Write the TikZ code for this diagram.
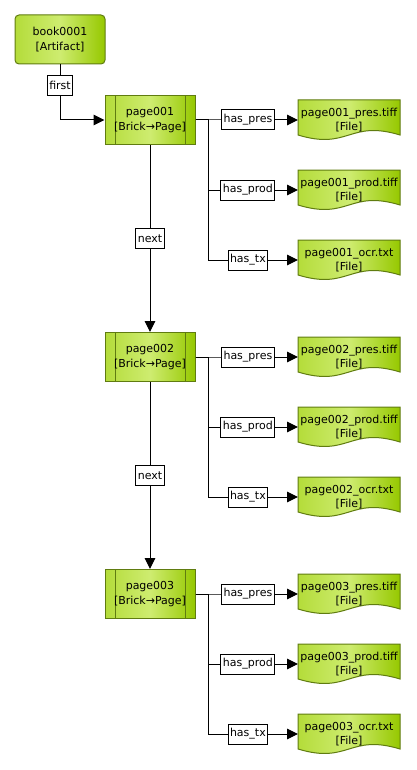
\documentclass[tikz,border=0pt]{standalone}
\usepackage{fontspec}
\setmainfont{DejaVu Sans}
\usetikzlibrary{arrows.meta,backgrounds,calc}

\definecolor{nodeedge}{RGB}{96,124,16}
\definecolor{greenlight}{RGB}{206,236,112}
\definecolor{greenmid}{RGB}{180,220,58}
\definecolor{greendark}{RGB}{150,200,0}

\begin{document}
\begin{tikzpicture}[x=0.75pt,y=-0.75pt,
    font=\fontsize{8.25pt}{11pt}\selectfont,
    greenfill/.style={draw=nodeedge, line width=0.75pt, left color=greenmid, right color=greendark, middle color=greenlight},
    artifact/.style={greenfill, rounded corners=3pt, minimum width=67.5pt, minimum height=36.75pt, align=center, inner sep=0pt},
    brick/.style={greenfill, minimum width=67.5pt, minimum height=36.75pt, align=center, inner sep=0pt,
        path picture={\draw[nodeedge, line width=0.75pt]
            ([xshift=7.5pt]path picture bounding box.north west) -- ([xshift=7.5pt]path picture bounding box.south west)
            ([xshift=-7.5pt]path picture bounding box.north east) -- ([xshift=-7.5pt]path picture bounding box.south east);}},
    filebox/.style={minimum width=76.5pt, minimum height=30pt, align=center, inner sep=0pt, outer sep=0pt},
    lbl/.style={draw, fill=white, line width=0.75pt, inner xsep=1.5pt, inner ysep=0pt, minimum height=15pt},
    conn/.style={line width=0.75pt, -{Triangle[length=8.25pt,width=8pt]}}]
            \useasboundingbox (0,0) rectangle (417,770);

            % Book
            \node[artifact] (book) at (60,39.5) {book0001\\{[Artifact]}};

            % Pages and their files
            \foreach \i/\y in {1/120,2/357,3/594} {
                \node[brick] (page\i) at (150,\y) {page00\i\\{[Brick→Page]}};
                \coordinate (junc\i) at ($(page\i.east)+(13,0)$);
                \foreach \kind/\ext/\rel/\dy in {pres/tiff/has\_pres/0,prod/tiff/has\_prod/70,ocr/txt/has\_tx/140} {
                    \node[filebox] (file\i\kind) at (349,\y+\dy) {page00\i\_\kind.\ext\\{[File]}};
                    \begin{scope}[on background layer]
                        \path[greenfill] (file\i\kind.north west) -- (file\i\kind.north east)
                            -- ($(file\i\kind.south east)+(0,-5)$)
                            .. controls ($(file\i\kind.south)+(0,-20.5)$) and ($(file\i\kind.south)+(0,10.5)$) ..
                            ($(file\i\kind.south west)+(0,-5)$) -- cycle;
                    \end{scope}
                    \draw[conn] (page\i.east) -- (junc\i) |- node[lbl,pos=0.72] {\rel} (file\i\kind.west);
                }
            }

            % First page
            \draw[conn] (book.south) |- node[lbl,pos=0.19] {first} (page1.west);

            % Next pages
            \foreach \a/\b in {1/2,2/3}
                \draw[conn] (page\a.south) -- node[lbl] {next} (page\b.north);
\end{tikzpicture}
\end{document}
